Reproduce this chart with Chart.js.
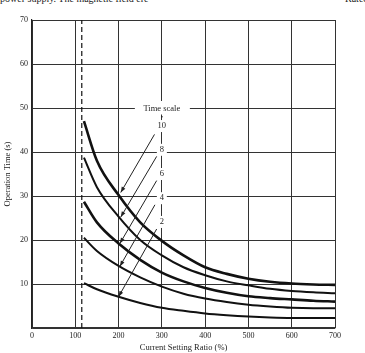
<!DOCTYPE html>
<html>
<head>
<meta charset="utf-8">
<script src="https://cdn.jsdelivr.net/npm/chart.js@4.4.1/dist/chart.umd.min.js"></script>
<style>
body{margin:0;background:#fff;}
#wrap{position:relative;width:365px;height:353px;overflow:hidden;background:#fff;}
.top{position:absolute;top:-7px;font:10px "Liberation Serif",serif;color:#222;white-space:nowrap;}
canvas{position:absolute;left:0;top:0;}
</style>
</head>
<body>
<div id="wrap">
  <div class="top" style="left:0">power supply. The magnetic field ere</div>
  <div class="top" style="left:345px">Rated</div>
  <canvas id="myChart" width="365" height="353"></canvas>
</div>
<script>
// current setting ratio (%)
const ratio = [120, 150, 200, 250, 300, 350, 400, 450, 500, 550, 600, 650, 700];
// operation time (s) for each time scale setting
const ts10 = [47, 38, 30.2, 24, 19.8, 16.5, 13.8, 12.3, 11.2, 10.5, 10.1, 9.9, 9.8];
const ts8 = [38.7, 32, 25.3, 20, 16.5, 13.8, 12, 10.6, 9.7, 8.9, 8.4, 8.1, 7.9];
const ts6 = [28.7, 24, 19.2, 15.5, 12.6, 10.6, 9.1, 8, 7.2, 6.8, 6.5, 6.2, 6.0];
const ts4 = [20.5, 17.5, 14.1, 11.5, 9.4, 7.8, 6.7, 5.9, 5.3, 4.9, 4.6, 4.5, 4.5];
const ts2 = [10.2, 8.8, 7.1, 5.7, 4.6, 3.9, 3.3, 2.9, 2.6, 2.4, 2.3, 2.3, 2.3];

const xTicks = [0, 100, 200, 300, 400, 500, 600, 700];
const yTicks = [10, 20, 30, 40, 50, 60, 70];

// pickup line
const pickup = 115;

// time scale callouts (data units)
const scaleNames = ['10', '8', '6', '4', '2'];
const scaleLabelY = [45.9, 40.5, 35, 29.5, 24.1];
const titleAt = [300, 50];
const arrowFrom = [[283, 44], [288, 39], [288, 33.5], [284, 28], [288, 22.5]];
const arrowTo = [[205, 30.8], [205, 25.2], [203, 19.2], [203, 14], [200, 7.1]];

const serif = '"Liberation Serif", "Times New Roman", serif';

function curve(ys, w) {
  return {
    data: ratio.map((x, i) => ({ x: x, y: ys[i] })),
    borderColor: '#111',
    borderWidth: w,
    pointRadius: 0,
    showLine: true,
    cubicInterpolationMode: 'monotone',
    fill: false
  };
}

const callouts = {
  id: 'callouts',
  afterDatasetsDraw(chart) {
    const { ctx, scales: { x, y } } = chart;
    ctx.save();
    ctx.fillStyle = '#fff';
    // white boxes that break the grid
    const tx = x.getPixelForValue(titleAt[0]);
    const ty = y.getPixelForValue(titleAt[1]);
    ctx.fillRect(tx - 27, ty - 7, 55, 13.5);
    scaleLabelY.forEach(v => {
      const py = y.getPixelForValue(v);
      ctx.fillRect(tx - 5, py - 6, 10, 12);
    });
    ctx.fillStyle = '#222';
    ctx.font = '8.5px ' + serif;
    ctx.textAlign = 'center';
    ctx.textBaseline = 'middle';
    ctx.fillText('Time scale', tx, ty + 1);
    ctx.fillRect(tx - 0.7, ty + 8, 1.4, 1.4);
    scaleNames.forEach((s, i) => {
      ctx.fillText(s, tx, y.getPixelForValue(scaleLabelY[i]));
    });
    // arrows
    ctx.strokeStyle = '#222';
    ctx.lineWidth = 1;
    arrowFrom.forEach((f, i) => {
      const x0 = x.getPixelForValue(f[0]), y0 = y.getPixelForValue(f[1]);
      const x1 = x.getPixelForValue(arrowTo[i][0]), y1 = y.getPixelForValue(arrowTo[i][1]);
      ctx.beginPath();
      ctx.moveTo(x0, y0);
      ctx.lineTo(x1, y1);
      ctx.stroke();
      const a = Math.atan2(y1 - y0, x1 - x0);
      ctx.beginPath();
      ctx.moveTo(x1, y1);
      ctx.lineTo(x1 - 6 * Math.cos(a - 0.35), y1 - 6 * Math.sin(a - 0.35));
      ctx.lineTo(x1 - 6 * Math.cos(a + 0.35), y1 - 6 * Math.sin(a + 0.35));
      ctx.closePath();
      ctx.fill();
    });
    ctx.restore();
  }
};

new Chart(document.getElementById('myChart'), {
  type: 'scatter',
  data: {
    datasets: [
      curve(ts10, 2.6),
      curve(ts8, 2),
      curve(ts6, 2.6),
      curve(ts4, 2),
      curve(ts2, 2),
      {
        data: [{ x: pickup, y: 0 }, { x: pickup, y: 70 }],
        borderColor: '#111',
        borderWidth: 1.2,
        borderDash: [5, 3],
        pointRadius: 0,
        showLine: true
      }
    ]
  },
  options: {
    responsive: false,
    animation: false,
    layout: { padding: { top: 20, right: 30, left: 0, bottom: 0 } },
    plugins: { legend: { display: false }, tooltip: { enabled: false } },
    scales: {
      x: {
        type: 'linear',
        min: 0,
        max: 700,
        afterBuildTicks: s => { s.ticks = xTicks.map(v => ({ value: v })); },
        afterFit: s => { s.height = 25; },
        ticks: { color: '#222', padding: 3, font: { family: serif, size: 8 } },
        grid: { color: '#333', lineWidth: 1, drawTicks: false },
        border: { color: '#333', width: 1.2 },
        title: {
          display: true,
          text: 'Current Setting Ratio (%)',
          color: '#222',
          padding: 0,
          font: { family: serif, size: 8.5 }
        }
      },
      y: {
        min: 0,
        max: 70,
        afterBuildTicks: s => { s.ticks = [0].concat(yTicks).map(v => ({ value: v })); },
        afterFit: s => { s.width = 32; },
        ticks: {
          color: '#222',
          padding: 4,
          font: { family: serif, size: 8 },
          callback: v => (v === 0 ? '' : v)
        },
        grid: { color: '#333', lineWidth: 1, drawTicks: false },
        border: { color: '#222', width: 1.2 },
        title: {
          display: true,
          text: 'Operation Time (s)',
          color: '#222',
          padding: { top: 3, bottom: 0 },
          font: { family: serif, size: 8.5 }
        }
      }
    }
  },
  plugins: [callouts]
});
</script>
</body>
</html>
